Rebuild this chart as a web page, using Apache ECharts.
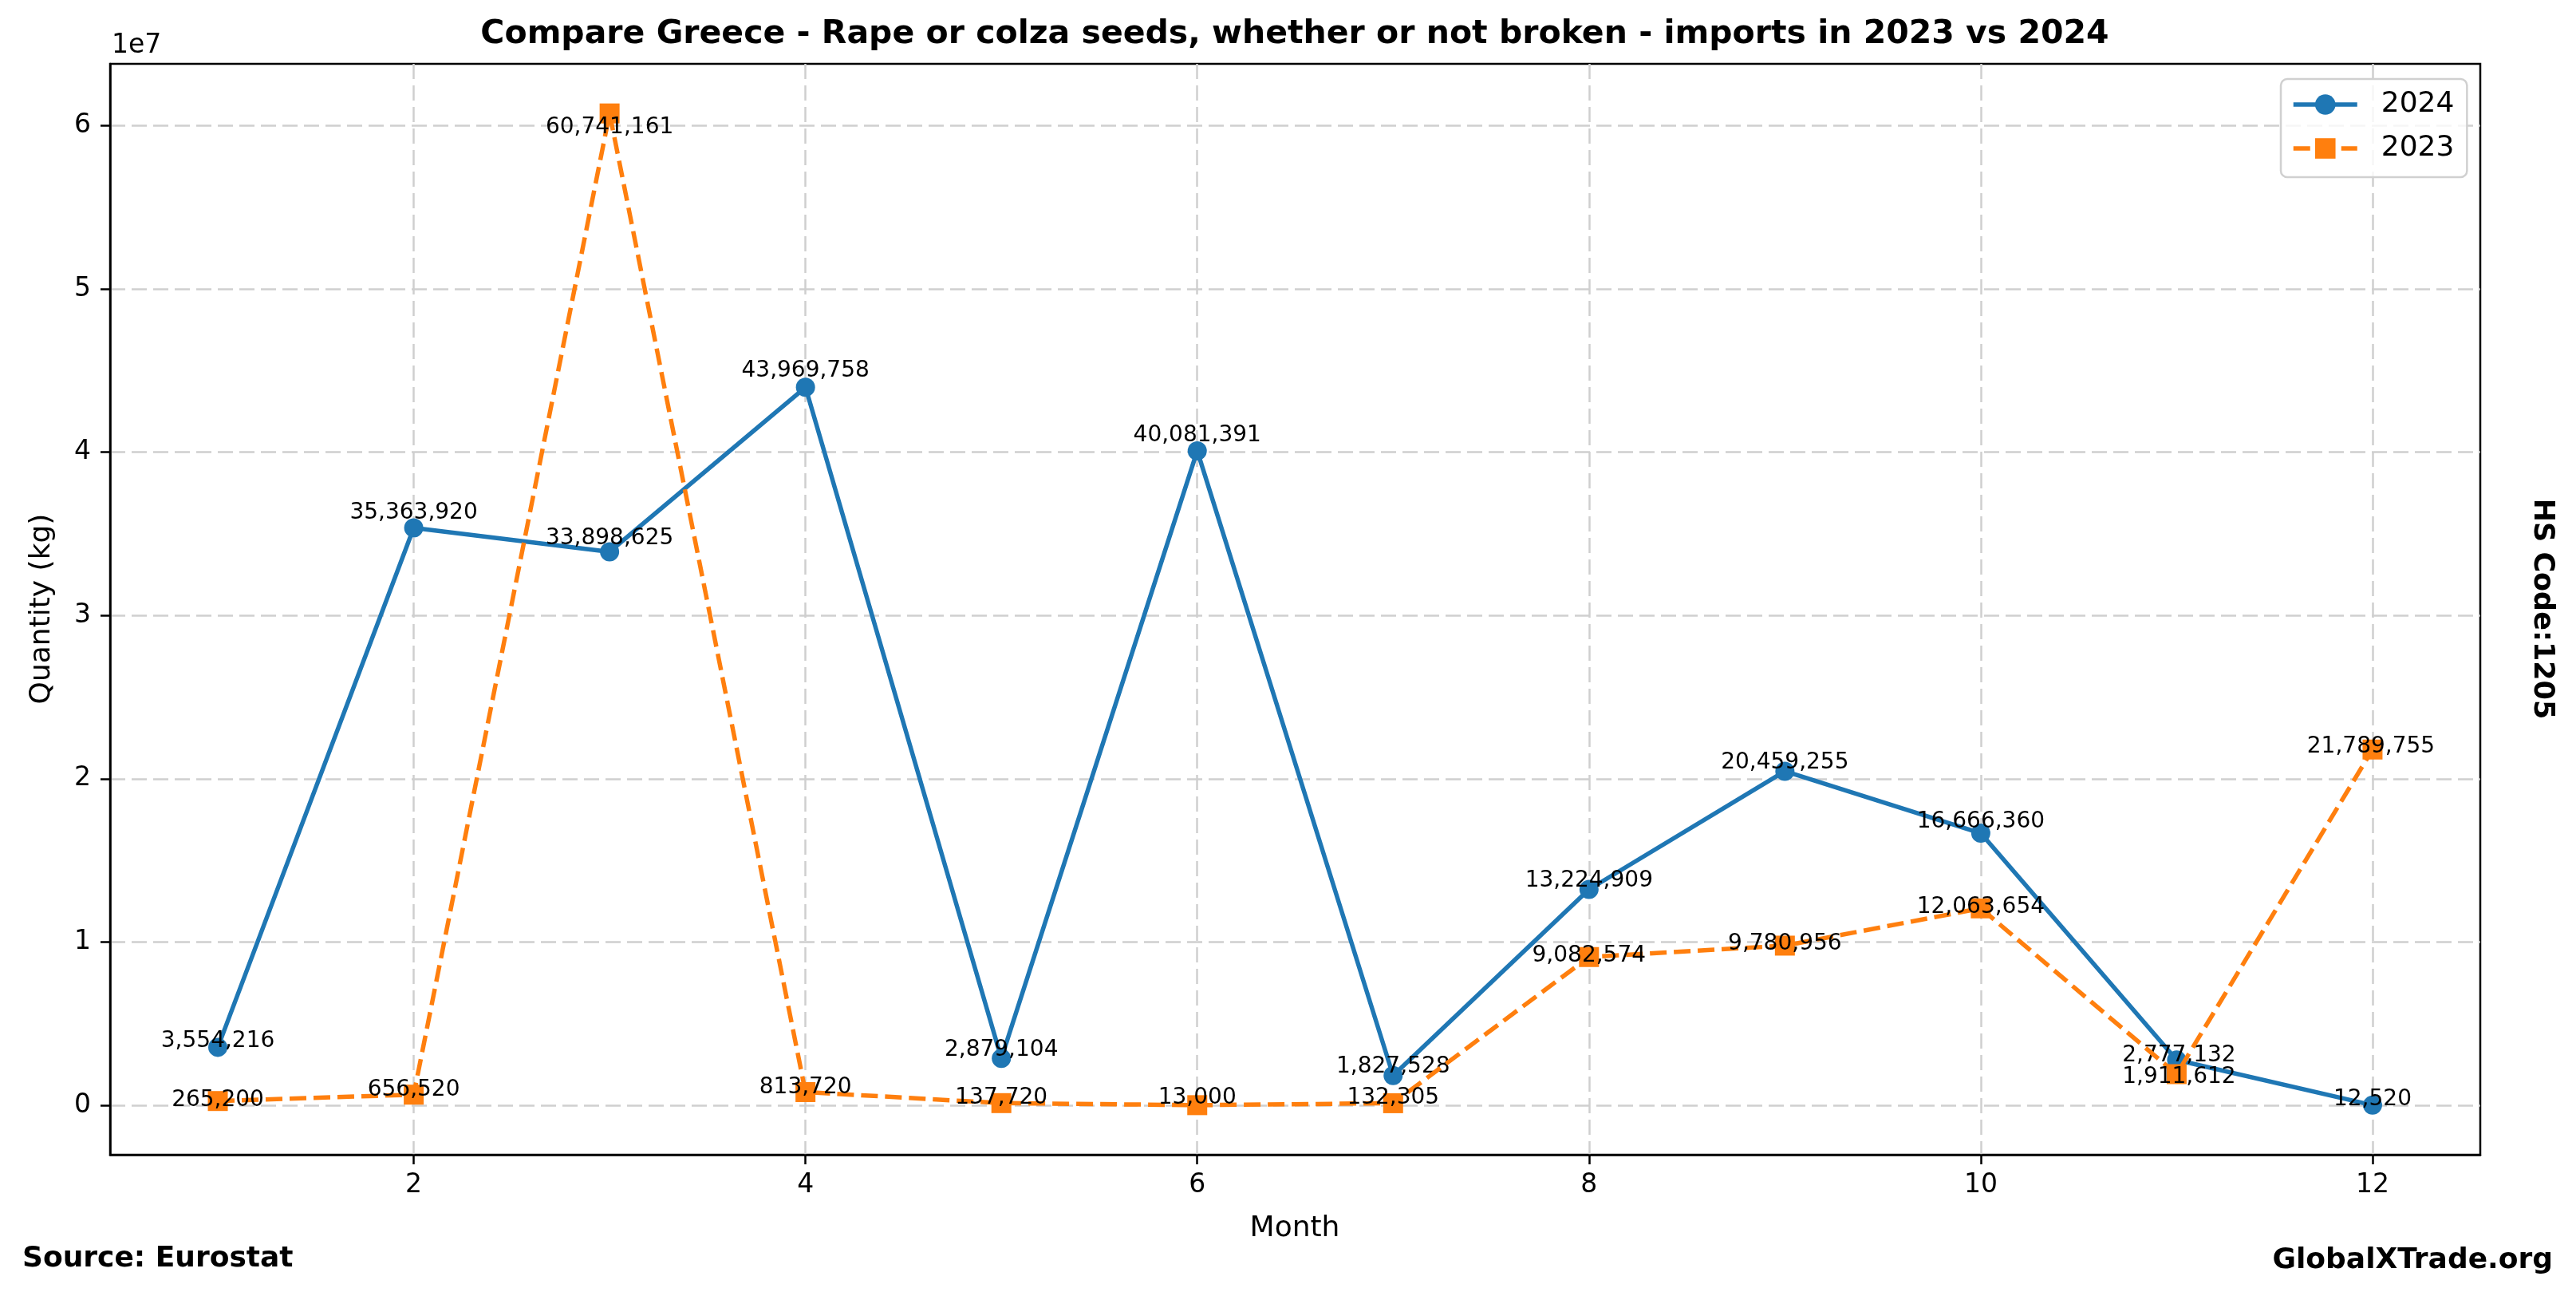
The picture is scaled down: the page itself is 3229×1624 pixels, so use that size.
<!DOCTYPE html>
<html>
<head>
<meta charset="utf-8">
<script src="https://cdn.jsdelivr.net/npm/echarts@6/dist/echarts.min.js"></script>
<style>
  html, body { margin: 0; padding: 0; background: #ffffff; }
  #chart { width: 3229px; height: 1624px; }
</style>
</head>
<body>
<div id="chart"></div>
<script>
// ---- data ----
const months = [1, 2, 3, 4, 5, 6, 7, 8, 9, 10, 11, 12];
const imports2024 = [3554216, 35363920, 33898625, 43969758, 2879104, 40081391, 1827528, 13224909, 20459255, 16666360, 2777132, 12520];
const imports2023 = [265200, 656520, 60741161, 813720, 137720, 13000, 132305, 9082574, 9780956, 12063654, 1911612, 21789755];
const xTickValues = [2, 4, 6, 8, 10, 12];
const yTickValues = [0, 10000000, 20000000, 30000000, 40000000, 50000000, 60000000];
const seriesNames = ['2024', '2023'];

// ---- label nudges (pixels) ----
const labelNudge2024 = [[0,-12],[0,-23],[0,-21],[0,-25],[0,-14],[0,-23],[0,-15],[0,-15],[0,-15],[0,-18],[3,-10],[0,-11]];
const labelNudge2023 = [[0,-5],[0,-10],[0,14],[0,-10],[0,-11],[0,-13],[0,-11],[0,-6],[0,-6],[0,-6],[3,0],[-2,-8]];
const labelBaselineShift = 4;

const FONT = 'DejaVu Sans';
const fmt = v => v.toLocaleString('en-US');

// matplotlib-like 5% margins
const allVals = imports2024.concat(imports2023);
const dMin = Math.min(...allVals), dMax = Math.max(...allVals);
const yPad = (dMax - dMin) * 0.05;
const xPad = (months[months.length - 1] - months[0]) * 0.05;

function buildData(vals, nudges) {
  return months.map((m, i) => ({
    value: [m, vals[i]],
    label: { offset: [nudges[i][0], nudges[i][1] + labelBaselineShift] }
  }));
}

const chart = echarts.init(document.getElementById('chart'), null, { renderer: 'canvas' });

const gridLine = { color: '#cfcfcf', width: 2.5, type: [19, 8] };

const option = {
  animation: false,
  backgroundColor: '#ffffff',
  grid: {
    left: 138, top: 80, width: 2971, height: 1367,
    show: true, borderColor: '#000000', borderWidth: 2.5, backgroundColor: 'transparent'
  },
  legend: {
    data: seriesNames,
    orient: 'vertical',
    left: 2859, top: 99,
    itemWidth: 80, itemHeight: 32, itemGap: 19,
    padding: [14, 16, 18, 13],
    backgroundColor: 'rgba(255,255,255,0.8)',
    borderColor: '#d0d0d0', borderWidth: 2.5, borderRadius: 8,
    lineStyle: { width: 5.5 },
    textStyle: { fontSize: 36, fontFamily: FONT, color: '#000000', padding: [0, 0, 0, 25] }
  },
  xAxis: {
    type: 'value',
    min: +(months[0] - xPad).toFixed(4),
    max: +(months[months.length - 1] + xPad).toFixed(4),
    axisLine: { show: true, onZero: false, lineStyle: { color: '#000000', width: 2.5 } },
    axisTick: { show: true, length: 12, lineStyle: { color: '#000000', width: 2.5 }, customValues: xTickValues },
    axisLabel: { customValues: xTickValues, fontSize: 33, fontFamily: FONT, color: '#000000', margin: 22 },
    splitLine: { show: true, lineStyle: gridLine }
  },
  yAxis: {
    type: 'value',
    min: dMin - yPad,
    max: dMax + yPad,
    axisLine: { show: true, onZero: false, lineStyle: { color: '#000000', width: 2.5 } },
    axisTick: { show: true, length: 12, lineStyle: { color: '#000000', width: 2.5 }, customValues: yTickValues },
    axisLabel: {
      customValues: yTickValues, fontSize: 33, fontFamily: FONT, color: '#000000', margin: 24,
      formatter: v => String(Math.round(v / 1e7))
    },
    splitLine: { show: true, lineStyle: gridLine }
  },
  series: [
    {
      name: seriesNames[0],
      type: 'line',
      data: buildData(imports2024, labelNudge2024),
      symbol: 'circle', symbolSize: 24,
      lineStyle: { color: '#1f77b4', width: 5.5 },
      itemStyle: { color: '#1f77b4' },
      label: {
        show: true, position: 'inside', fontSize: 28, fontFamily: FONT, color: '#000000',
        formatter: p => fmt(p.value[1])
      },
      z: 3
    },
    {
      name: seriesNames[1],
      type: 'line',
      data: buildData(imports2023, labelNudge2023),
      symbol: 'rect', symbolSize: 25,
      lineStyle: { color: '#ff7f0e', width: 5.5, type: [21, 9] },
      itemStyle: { color: '#ff7f0e' },
      label: {
        show: true, position: 'inside', fontSize: 28, fontFamily: FONT, color: '#000000',
        formatter: p => fmt(p.value[1])
      },
      z: 4
    }
  ],
  graphic: [
    { type: 'text', x: 1623, y: 43, style: { text: 'Compare Greece - Rape or colza seeds, whether or not broken - imports in 2023 vs 2024', fill: '#000', fontSize: 41, fontWeight: 'bold', fontFamily: FONT, align: 'center', verticalAlign: 'middle' } },
    { type: 'text', x: 140, y: 57, style: { text: '1e7', fill: '#000', fontSize: 33, fontFamily: FONT, align: 'left', verticalAlign: 'middle' } },
    { type: 'text', x: 1623, y: 1540, style: { text: 'Month', fill: '#000', fontSize: 36, fontFamily: FONT, align: 'center', verticalAlign: 'middle' } },
    { type: 'text', x: 53, y: 763, rotation: Math.PI / 2, style: { text: 'Quantity (kg)', fill: '#000', fontSize: 36, fontFamily: FONT, align: 'center', verticalAlign: 'middle' } },
    { type: 'text', x: 3186, y: 763, rotation: -Math.PI / 2, style: { text: 'HS Code:1205', fill: '#000', fontSize: 35, fontWeight: 'bold', fontFamily: FONT, align: 'center', verticalAlign: 'middle' } },
    { type: 'text', x: 28, y: 1578, style: { text: 'Source: Eurostat', fill: '#000', fontSize: 36, fontWeight: 'bold', fontFamily: FONT, align: 'left', verticalAlign: 'middle' } },
    { type: 'text', x: 3200, y: 1580, style: { text: 'GlobalXTrade.org', fill: '#000', fontSize: 36, fontWeight: 'bold', fontFamily: FONT, align: 'right', verticalAlign: 'middle' } }
  ]
};

chart.setOption(option);
</script>
</body>
</html>
